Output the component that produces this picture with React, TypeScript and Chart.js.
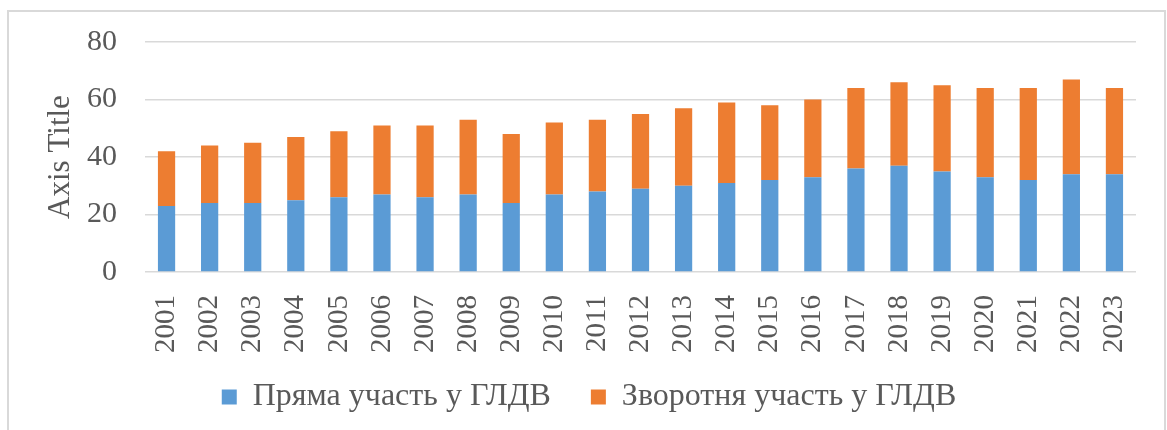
import React, { useEffect, useRef } from "react";
import { Chart, registerables } from "chart.js";

Chart.register(...registerables);

const years = ["2001","2002","2003","2004","2005","2006","2007","2008","2009","2010","2011","2012","2013","2014","2015","2016","2017","2018","2019","2020","2021","2022","2023"];
const directParticipation = [23,24,24,25,26,27,26,27,24,27,28,29,30,31,32,33,36,37,35,33,32,34,34];
const backwardParticipation = [19,20,21,22,23,24,25,26,24,25,25,26,27,28,26,27,28,29,30,31,32,33,30];
const seriesNames = ["Пряма участь у ГЛДВ", "Зворотня участь у ГЛДВ"];
const yTicks = [0, 20, 40, 60, 80];

const FONT = "'Liberation Serif', 'Times New Roman', serif";
const TEXT = "#595959";

export default function App() {
  const ref = useRef<HTMLCanvasElement | null>(null);
  useEffect(() => {
    if (!ref.current) return;
    const chart = new Chart(ref.current, {
      type: "bar",
      data: {
        labels: years,
        datasets: [
          { label: seriesNames[0], data: directParticipation, backgroundColor: "#5B9BD5", borderWidth: 0, barPercentage: 0.4, categoryPercentage: 1 },
          { label: seriesNames[1], data: backwardParticipation, backgroundColor: "#ED7D31", borderWidth: 0, barPercentage: 0.4, categoryPercentage: 1 },
        ],
      },
      options: {
        animation: false,
        responsive: false,
        maintainAspectRatio: false,
        layout: { padding: { left: 42, right: 31, top: 42, bottom: 7 } },
        plugins: {
          legend: {
            position: "bottom",
            labels: {
              font: { family: FONT, size: 32 },
              color: TEXT,
              boxWidth: 15,
              boxHeight: 15,
              padding: 40,
            },
          },
          tooltip: { enabled: false },
        },
        scales: {
          x: {
            stacked: true,
            grid: { display: false, drawTicks: false },
            border: { display: false },
            ticks: { font: { family: FONT, size: 29 }, color: TEXT, minRotation: 90, maxRotation: 90, padding: 23, autoSkip: false },
            afterFit: (axis: any) => {
              axis.height = 69;
              axis.paddingLeft = 0;
              axis.paddingRight = 0;
              axis._computeLabelArea = () => undefined;
            },
          },
          y: {
            stacked: true,
            min: 0,
            max: 80,
            afterBuildTicks: (axis: any) => { axis.ticks = yTicks.map((v) => ({ value: v })); },
            grid: { color: "#D9D9D9", lineWidth: 1.5, drawTicks: false },
            border: { display: false },
            ticks: { font: { family: FONT, size: 30 }, color: TEXT, padding: 28 },
            title: { display: true, text: "Axis Title", font: { family: FONT, size: 31 }, color: TEXT, padding: { top: 0, bottom: 0 } },
            afterFit: (axis: any) => {
              axis.width = 103;
              axis.paddingTop = 0;
              axis.paddingBottom = 0;
            },
          },
        },
      },
    });
    return () => chart.destroy();
  }, []);
  return (
    <div style={{ position: "absolute", left: 0, top: 0, width: 1167, height: 430, overflow: "hidden", background: "#fff" }}>
      <div style={{ position: "absolute", left: 7, top: 10, width: 1159, height: 440, border: "2px solid #D9D9D9", boxSizing: "border-box" }} />
      <canvas ref={ref} width={1167} height={430} style={{ position: "absolute", left: 0, top: 0 }} />
    </div>
  );
}
